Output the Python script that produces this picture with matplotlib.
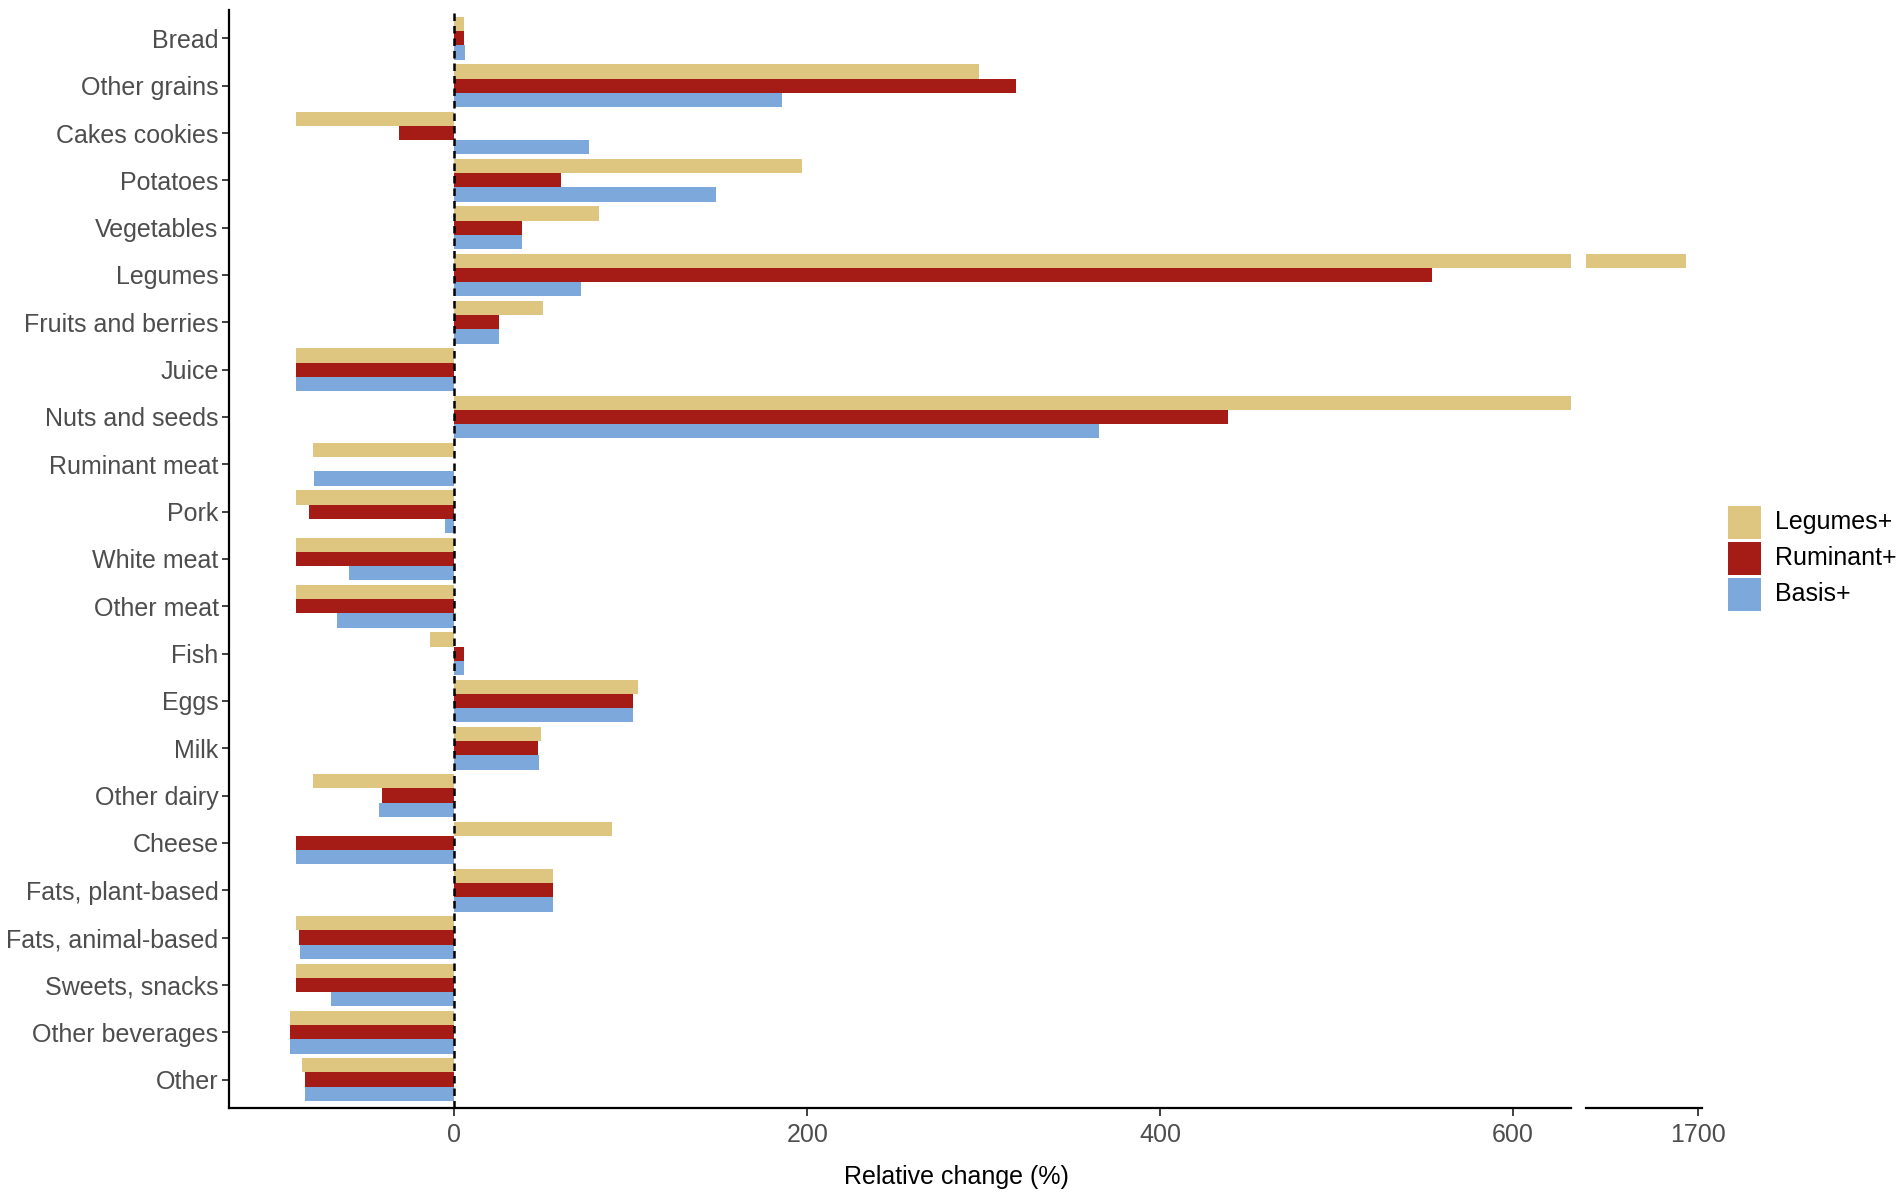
import numpy as np
import matplotlib
matplotlib.use("Agg")
import matplotlib.pyplot as plt
from matplotlib.patches import Rectangle

plt.rcParams['font.family'] = ['Liberation Sans', 'DejaVu Sans']

# categories, top to bottom
foods = ["Bread", "Other grains", "Cakes cookies", "Potatoes", "Vegetables", "Legumes",
         "Fruits and berries", "Juice", "Nuts and seeds", "Ruminant meat", "Pork",
         "White meat", "Other meat", "Fish", "Eggs", "Milk", "Other dairy", "Cheese",
         "Fats, plant-based", "Fats, animal-based", "Sweets, snacks", "Other beverages", "Other"]

# relative change (%) per scenario
legumes_plus = [5.5, 297, -90, 197, 82, 1693, 50, -90, 1000, -80, -90, -90, -90, -14,
                104, 49, -80, 89, 56, -90, -90, -93.5, -86.5]
ruminant_plus = [5.5, 318, -31.5, 60.5, 38.5, 554, 25, -90, 438.5, 0, -82.5, -90, -90, 5.5,
                 101, 47.5, -41, -90, 56, -88, -90, -93.5, -84.5]
basis_plus = [6, 185.5, 76, 148, 38.5, 71.5, 25, -90, 365.5, -79.5, -5.5, -60, -66.5, 5.5,
              101, 48, -43, -90, 56, -87.5, -70, -93.5, -84.5]

series = ["Legumes+", "Ruminant+", "Basis+"]
colors = ["#DEC680", "#A51B16", "#7CA8DC"]

W, H = 1902, 1200
fig = plt.figure(figsize=(W / 100, H / 100), dpi=100)
bot, top = 0.0767, 0.9917
ax1 = fig.add_axes([0.1204, bot, 0.826 - 0.1204, top - bot])
ax2 = fig.add_axes([0.8337, bot, 0.8949 - 0.8337, top - bot], sharey=ax1)

y = np.arange(len(foods))
w = 0.3
for ax in (ax1, ax2):
    for k, vals in enumerate([legumes_plus, ruminant_plus, basis_plus]):
        ax.barh(y + (k - 1) * w, vals, height=w, color=colors[k], linewidth=0)
    ax.axvline(0, color="black", linestyle=(0, (3, 2)), linewidth=1.8)
    for s in ["top", "right"]:
        ax.spines[s].set_visible(False)
    ax.spines["bottom"].set_linewidth(1.6)
    ax.tick_params(axis="x", labelsize=18, labelcolor="#4d4d4d", length=6, width=1.3,
                   color="#333333", pad=5)

# broken x axis: main range and the far right piece
ax1.set_xlim(-127.8, 632.8)
ax2.set_xlim(1636.4, 1702.3)
ax1.set_ylim(len(foods) - 0.4, -0.6)
ax1.set_xticks([0, 200, 400, 600])
ax2.set_xticks([1700])

ax1.set_yticks(y)
ax1.set_yticklabels(foods)
ax1.spines["left"].set_linewidth(1.6)
ax1.tick_params(axis="y", labelsize=18, labelcolor="#4d4d4d", length=5, width=1.3,
                color="#333333", pad=2.5)
ax2.spines["left"].set_visible(False)
ax2.tick_params(axis="y", left=False, labelleft=False)

fig.text(0.503, 0.019, "Relative change (%)", ha="center", va="center", fontsize=18)

# legend drawn by hand so the keys are square and tightly stacked
key_x, key_w, key_h = 1728, 33, 33
key_tops = [506, 542, 578]
for c, s, kt in zip(colors, series, key_tops):
    fig.add_artist(Rectangle((key_x / W, 1 - (kt + key_h) / H), key_w / W, key_h / H,
                             transform=fig.transFigure, facecolor=c, edgecolor="none"))
    fig.text(1775 / W, 1 - (kt + key_h / 2) / H, s, ha="left", va="center", fontsize=18)

fig.savefig("out.png", dpi=100)
